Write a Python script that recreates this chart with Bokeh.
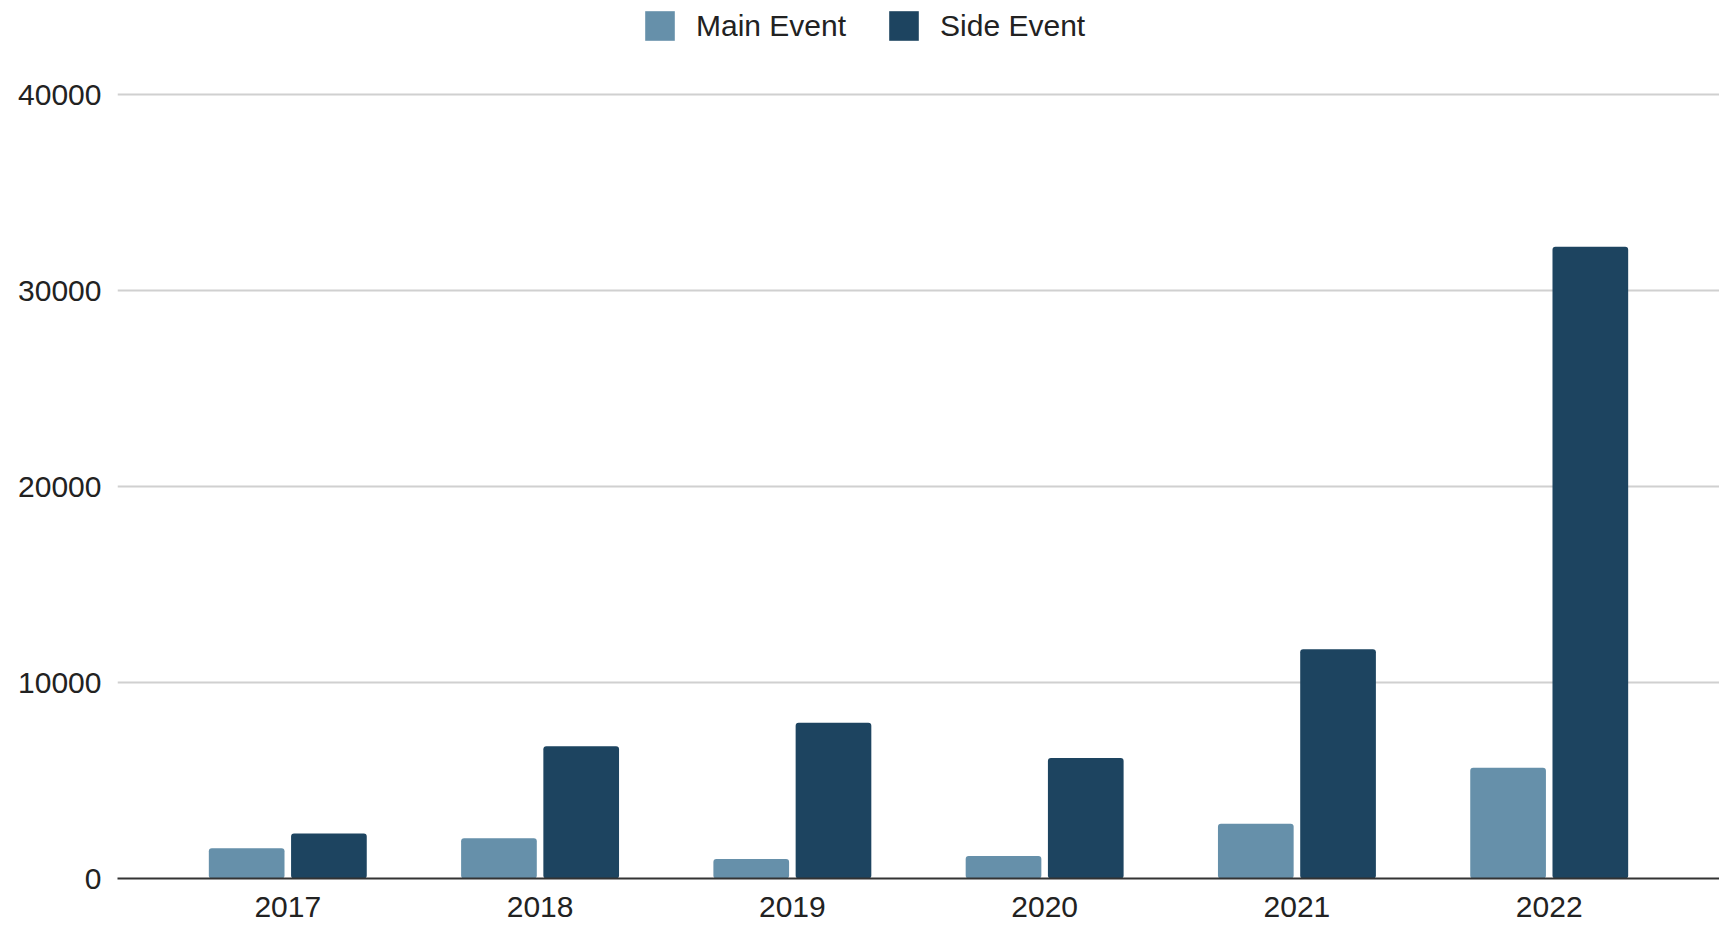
from bokeh.plotting import figure
from bokeh.models import FactorRange, Range1d, Legend, LegendItem, ColumnDataSource, FixedTicker
from bokeh.transform import dodge
from bokeh.embed import file_html
from bokeh.resources import INLINE

years = ["2017", "2018", "2019", "2020", "2021", "2022"]
main_event = [1550, 2050, 1000, 1150, 2800, 5650]
side_event = [2300, 6750, 7950, 6150, 11700, 32250]
y_ticks = [0, 10000, 20000, 30000, 40000]

src = ColumnDataSource(dict(year=years, main=main_event, side=side_event))

FONT = "Liberation Sans"

p = figure(
    x_range=FactorRange(*years, range_padding=0.175, range_padding_units="absolute"),
    y_range=Range1d(0, 44813),
    width=1719, height=927,
    output_backend="svg", toolbar_location=None,
    min_border_left=117, min_border_right=0, min_border_top=0, min_border_bottom=49,
)

r1 = p.vbar(x=dodge("year", -0.163, range=p.x_range), top="main", width=0.3, source=src,
            fill_color="#6690AA", line_color=None, border_radius=3)
r2 = p.vbar(x=dodge("year", 0.163, range=p.x_range), top="side", width=0.3, source=src,
            fill_color="#1D4460", line_color=None, border_radius=3)

legend = Legend(
    items=[LegendItem(label="Main Event", renderers=[r1]),
           LegendItem(label="Side Event", renderers=[r2])],
    orientation="horizontal", location=(524, 834),
    glyph_width=37, glyph_height=37, label_standoff=18, spacing=39,
    label_text_font=FONT, label_text_font_size="30px", label_text_color="#222222",
    border_line_color=None, background_fill_alpha=0, padding=4, margin=0,
)
p.add_layout(legend, "center")

p.outline_line_color = None
p.xgrid.visible = False
p.ygrid.grid_line_color = "#d0d0d0"
p.ygrid.grid_line_width = 1.8

p.yaxis.ticker = FixedTicker(ticks=y_ticks)
p.yaxis.axis_line_color = None
p.yaxis.major_tick_line_color = None
p.yaxis.minor_tick_line_color = None
p.yaxis.major_tick_out = 0
p.yaxis.minor_tick_out = 0
p.yaxis.major_label_standoff = 16
p.yaxis.major_label_text_font = FONT
p.yaxis.major_label_text_font_size = "30px"
p.yaxis.major_label_text_color = "#222222"

p.xaxis.axis_line_color = "#333333"
p.xaxis.axis_line_width = 2
p.xaxis.major_tick_line_color = None
p.xaxis.minor_tick_line_color = None
p.xaxis.major_label_standoff = 12
p.xaxis.major_label_text_font = FONT
p.xaxis.major_label_text_font_size = "30px"
p.xaxis.major_label_text_color = "#222222"

open("out.html", "w").write(file_html(p, INLINE))
